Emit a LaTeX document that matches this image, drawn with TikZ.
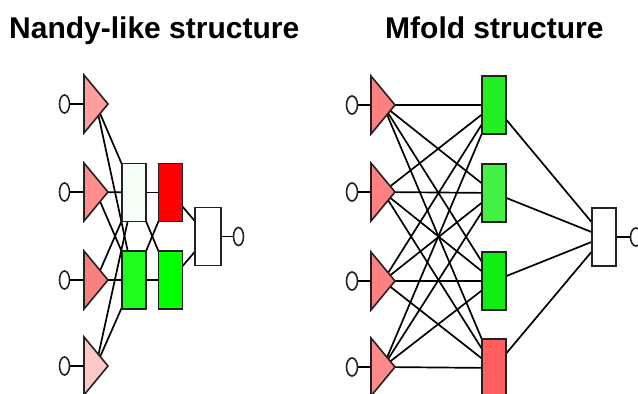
\documentclass[tikz,border=0pt]{standalone}
\usepackage{fontspec}
\setmainfont{Liberation Sans}
\usetikzlibrary{shapes.geometric,backgrounds,calc}

% colours of the units
\definecolor{tA}{HTML}{FF9E9E}
\definecolor{tB}{HTML}{FF8C8C}
\definecolor{tC}{HTML}{FA8080}
\definecolor{tD}{HTML}{FFC8C8}
\definecolor{tR}{HTML}{FF8080}
\definecolor{tRlight}{HTML}{FF8A8A}
\definecolor{hWhite}{HTML}{F6FFF6}
\definecolor{hRed}{HTML}{FF0000}
\definecolor{hGreenA}{HTML}{1EFF1E}
\definecolor{hGreenB}{HTML}{00FF00}
\definecolor{mGreenA}{HTML}{22EE22}
\definecolor{mGreenB}{HTML}{44F044}
\definecolor{mGreenC}{HTML}{11EE11}
\definecolor{mRed}{HTML}{FF5F5F}
\definecolor{edge}{HTML}{222222}

\begin{document}
\begin{tikzpicture}[x=1pt,y=-1pt,
  tri/.style={isosceles triangle, isosceles triangle stretches,
    shape border rotate=0, minimum width=58pt, minimum height=24pt,
    inner sep=0pt, outer sep=0pt, draw=edge, line width=1.6pt},
  unit/.style={rectangle, minimum width=24pt, minimum height=58pt,
    inner sep=0pt, outer sep=0pt, draw=edge, line width=1.6pt},
  port/.style={ellipse, minimum width=10pt, minimum height=18pt,
    inner sep=0pt, outer sep=0pt, draw=edge, fill=white, line width=1.6pt},
  link/.style={draw=black, line width=1.7pt},
  title/.style={font=\fontsize{30}{36}\selectfont\bfseries, inner sep=0pt, anchor=base west}
]
\useasboundingbox (0,0) rectangle (638,394);

% titles
\node[title] (tl) at (9,38) {Nandy-like structure};
\node[title] (tr) at (385,38) {Mfold structure};

% ---------------- Nandy-like network ----------------
\node[tri, fill=tA, anchor=apex] (la1) at (108,104) {};
\node[tri, fill=tB, anchor=apex] (la2) at (108,192) {};
\node[tri, fill=tC, anchor=apex] (la3) at (108,280) {};
\node[tri, fill=tD, anchor=apex] (la4) at (108,366) {};
\foreach \i/\y in {1/104,2/192,3/280,4/366}
  \node[port] (lp\i) at (64.5,\y) {};

% middle of each triangle, where its links start
\coordinate (lc1) at ($(la1.apex)!0.5!(la1.lower side)$);
\coordinate (lc2) at ($(la2.apex)!0.5!(la2.lower side)$);
\coordinate (lc3) at ($(la3.apex)!0.5!(la3.lower side)$);
\coordinate (lc4) at ($(la4.apex)!0.5!(la4.lower side)$);

\node[unit, fill=hWhite] (lh1) at (134,192.5) {};
\node[unit, fill=hGreenA] (lh2) at (134,280) {};
\node[unit, fill=hRed] (lg1) at (170.5,192.5) {};
\node[unit, fill=hGreenB] (lg2) at (170.5,280) {};
\node[unit, fill=white, minimum width=26pt] (lo) at (208,236.5) {};
\node[port] (lq) at (238.5,236.5) {};

\begin{scope}[on background layer]
  \foreach \i in {1,...,4} {
    \draw[link] (lp\i) -- (lc\i);
    \draw[link] (lc\i) -- (lh1.center);
    \draw[link] (lc\i) -- (lh2.center);
  }
  \foreach \a in {lh1,lh2}
    \foreach \b in {lg1,lg2}
      \draw[link] (\a.center) -- (\b.center);
  \draw[link] (lg1.center) -- (lo.center);
  \draw[link] (lg2.center) -- (lo.center);
  \draw[link] (lo.center) -- (lq.center);
\end{scope}

% ---------------- Mfold network ----------------
\node[tri, fill=tR, anchor=apex] (ra1) at (395,105) {};
\node[tri, fill=tR, anchor=apex] (ra2) at (395,192) {};
\node[tri, fill=tR, anchor=apex] (ra3) at (395,281) {};
\node[tri, fill=tRlight, anchor=apex] (ra4) at (395,367) {};
\foreach \i/\y in {1/105,2/192,3/281,4/367}
  \node[port, minimum width=11pt] (rp\i) at (352,\y) {};

\coordinate (rc1) at ($(ra1.apex)!0.5!(ra1.lower side)$);
\coordinate (rc2) at ($(ra2.apex)!0.5!(ra2.lower side)$);
\coordinate (rc3) at ($(ra3.apex)!0.5!(ra3.lower side)$);
\coordinate (rc4) at ($(ra4.apex)!0.5!(ra4.lower side)$);

\node[unit, fill=mGreenA] (rh1) at (494,105) {};
\node[unit, fill=mGreenB] (rh2) at (494,193) {};
\node[unit, fill=mGreenC] (rh3) at (494,281) {};
\node[unit, fill=mRed] (rh4) at (494,368) {};
\node[unit, fill=white] (ro) at (604,237) {};
\node[port, minimum width=11pt] (rq) at (636,237) {};

\begin{scope}[on background layer]
  \foreach \i in {1,...,4} {
    \draw[link] (rp\i) -- (rc\i);
    \foreach \j in {1,...,4}
      \draw[link] (rc\i) -- (rh\j.center);
    \draw[link] (rh\i.center) -- (ro.center);
  }
  \draw[link] (ro.center) -- (rq.center);
\end{scope}
\end{tikzpicture}
\end{document}
